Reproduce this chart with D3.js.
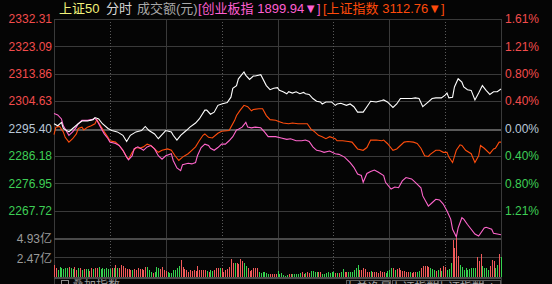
<!DOCTYPE html>
<html>
<head>
<meta charset="utf-8">
<script src="https://cdn.jsdelivr.net/npm/d3@7"></script>
<style>
  body { margin: 0; background: #050505; overflow: hidden; }
  svg { display: block; font-family: "Liberation Sans", Arial, "Noto Sans CJK SC", sans-serif; }
</style>
</head>
<body>
<svg id="chart" width="552" height="284"></svg>
<script>
// previous close of 上证50 and the axis labels
const prevClose = 2295.40;
const priceTicks = [2332.31, 2323.09, 2313.86, 2304.63, 2295.40, 2286.18, 2276.95, 2267.72];
const pctTicks = ["1.61%", "1.21%", "0.80%", "0.40%", "0.00%", "0.40%", "0.80%", "1.21%"];
const volTicks = [4.93, 2.47];
const bottomTabs = ["大单净量", "上证指数", "上证指数", "i"];

// [minute from 9:30, % change]
const sz50 = [[0,0.07],[2,0.04],[4,0.09],[5,0.00],[8,-0.05],[10,0.00],[13,0.07],[15,0.11],[18,0.11],[21,0.13],[22,0.16],[24,0.14],[26,0.07],[29,0.00],[31,-0.03],[34,-0.05],[37,-0.10],[39,-0.19],[41,-0.10],[44,-0.05],[47,-0.03],[49,0.03],[51,-0.03],[54,-0.08],[56,-0.15],[58,-0.09],[60,-0.03],[63,-0.05],[64,-0.10],[66,-0.17],[68,-0.10],[71,-0.03],[73,0.02],[76,0.08],[78,0.14],[81,0.27],[82,0.27],[84,0.21],[86,0.24],[88,0.34],[90,0.36],[93,0.38],[95,0.46],[96,0.59],[98,0.63],[99,0.73],[102,0.83],[103,0.78],[105,0.72],[107,0.77],[108,0.77],[111,0.79],[114,0.63],[116,0.57],[118,0.59],[120,0.60],[121,0.56],[123,0.54],[125,0.51],[126,0.54],[128,0.52],[130,0.54],[132,0.51],[134,0.53],[135,0.51],[137,0.50],[139,0.44],[141,0.40],[143,0.39],[144,0.36],[146,0.39],[149,0.39],[151,0.34],[152,0.36],[154,0.37],[157,0.34],[159,0.36],[161,0.32],[163,0.24],[166,0.24],[168,0.32],[170,0.40],[173,0.39],[176,0.41],[177,0.42],[179,0.39],[182,0.31],[184,0.36],[186,0.44],[189,0.44],[192,0.44],[194,0.45],[196,0.44],[198,0.32],[201,0.39],[203,0.44],[205,0.45],[208,0.45],[210,0.49],[211,0.52],[212,0.45],[214,0.46],[215,0.61],[217,0.73],[219,0.68],[220,0.61],[222,0.57],[224,0.56],[226,0.42],[228,0.52],[230,0.63],[232,0.56],[234,0.50],[236,0.54],[238,0.54],[240,0.58]];
const shIndex = [[0,-0.09],[1,0.02],[3,0.03],[5,-0.05],[6,-0.13],[8,-0.20],[10,-0.15],[12,-0.08],[13,0.00],[15,0.02],[16,-0.02],[18,0.02],[20,0.04],[22,0.07],[23,0.13],[25,0.04],[27,-0.05],[29,-0.13],[30,-0.18],[33,-0.20],[35,-0.25],[37,-0.32],[39,-0.42],[40,-0.45],[42,-0.35],[44,-0.28],[46,-0.29],[48,-0.27],[50,-0.23],[52,-0.25],[54,-0.30],[56,-0.35],[58,-0.32],[61,-0.30],[63,-0.32],[65,-0.40],[67,-0.47],[69,-0.42],[72,-0.37],[74,-0.32],[76,-0.27],[78,-0.18],[80,-0.10],[81,-0.08],[83,-0.13],[85,-0.14],[88,-0.07],[90,-0.04],[94,-0.03],[95,0.02],[97,0.12],[98,0.19],[100,0.27],[102,0.34],[104,0.32],[106,0.26],[107,0.28],[110,0.29],[112,0.29],[114,0.19],[116,0.13],[119,0.12],[121,0.10],[123,0.08],[126,0.07],[128,0.08],[131,0.07],[134,0.07],[136,0.07],[138,-0.01],[140,-0.05],[142,-0.10],[144,-0.12],[146,-0.15],[148,-0.12],[151,-0.15],[152,-0.18],[155,-0.18],[158,-0.19],[160,-0.20],[163,-0.30],[166,-0.32],[168,-0.28],[170,-0.17],[173,-0.17],[176,-0.18],[177,-0.17],[179,-0.22],[182,-0.32],[184,-0.30],[186,-0.25],[188,-0.20],[190,-0.19],[193,-0.20],[195,-0.22],[197,-0.29],[199,-0.40],[201,-0.41],[202,-0.38],[205,-0.32],[207,-0.32],[209,-0.35],[211,-0.35],[212,-0.42],[214,-0.50],[216,-0.32],[218,-0.24],[219,-0.25],[221,-0.32],[224,-0.37],[226,-0.50],[228,-0.40],[229,-0.25],[231,-0.29],[234,-0.37],[236,-0.30],[237,-0.29],[239,-0.20],[240,-0.20]];
const cybIndex = [[0,0.22],[2,0.20],[4,0.14],[5,0.04],[8,-0.10],[10,-0.05],[12,0.02],[13,0.07],[15,0.12],[18,0.12],[20,0.13],[22,0.15],[23,0.12],[25,0.02],[27,-0.08],[29,-0.15],[30,-0.20],[33,-0.22],[35,-0.25],[37,-0.32],[39,-0.42],[40,-0.46],[42,-0.40],[43,-0.30],[45,-0.27],[47,-0.30],[48,-0.32],[50,-0.27],[52,-0.25],[54,-0.30],[56,-0.40],[58,-0.45],[60,-0.40],[63,-0.37],[64,-0.47],[66,-0.58],[68,-0.62],[69,-0.53],[72,-0.51],[74,-0.52],[76,-0.50],[77,-0.40],[79,-0.28],[81,-0.23],[83,-0.25],[84,-0.29],[86,-0.32],[88,-0.28],[90,-0.23],[92,-0.23],[94,-0.18],[96,-0.12],[98,-0.02],[99,-0.01],[101,0.02],[103,0.09],[104,0.02],[106,0.01],[108,0.02],[111,0.01],[113,-0.05],[115,-0.12],[118,-0.12],[119,-0.12],[122,-0.14],[125,-0.16],[127,-0.15],[130,-0.18],[133,-0.18],[135,-0.17],[137,-0.19],[139,-0.27],[141,-0.32],[143,-0.33],[145,-0.35],[148,-0.33],[151,-0.37],[153,-0.38],[156,-0.42],[159,-0.50],[161,-0.57],[163,-0.67],[165,-0.69],[166,-0.79],[168,-0.66],[170,-0.63],[172,-0.61],[174,-0.64],[177,-0.69],[178,-0.79],[181,-0.89],[183,-0.86],[185,-0.87],[187,-0.77],[189,-0.72],[192,-0.74],[194,-0.79],[197,-0.87],[198,-0.99],[201,-1.14],[203,-1.09],[205,-1.04],[207,-1.05],[209,-1.11],[211,-1.21],[213,-1.33],[214,-1.48],[216,-1.59],[217,-1.46],[219,-1.31],[220,-1.33],[222,-1.41],[224,-1.48],[226,-1.55],[228,-1.58],[231,-1.46],[232,-1.45],[235,-1.48],[236,-1.54],[238,-1.55],[240,-1.56]];

// turnover per minute in 亿元, and whether the minute closed up (r) or down (g)
const volume = [
  1.53,1.09,0.87,1.22,1.09,0.96,1.18,1.09,1.31,1.09,
  1.05,1.31,0.87,1.09,1.09,0.87,1.05,0.96,0.96,0.78,
  1.09,0.96,1.09,1.13,1.26,0.96,1.09,0.96,1.13,1.05,
  0.96,1.13,1.09,1.53,1.09,1.09,1.48,1.40,1.09,1.05,
  0.96,0.87,0.90,1.00,0.90,1.20,1.00,1.00,0.87,1.26,
  1.26,0.87,0.65,0.52,0.65,1.26,1.09,1.00,1.26,0.87,
  0.74,0.61,0.52,0.52,0.87,0.87,1.09,1.40,2.18,1.26,
  1.00,0.87,0.65,0.87,0.70,0.87,0.78,1.40,0.87,0.87,
  0.87,0.87,0.74,0.65,0.87,0.70,0.87,1.09,1.13,1.13,
  1.13,0.61,0.87,1.00,1.26,2.27,1.79,1.74,1.74,1.66,
  2.27,2.05,1.74,1.40,1.09,0.78,0.87,1.09,1.13,1.13,
  0.61,0.52,0.61,0.61,0.52,0.44,0.35,0.35,0.35,0.40,
  0.78,0.44,0.52,0.31,0.17,0.22,0.35,0.35,0.35,0.35,
  0.35,0.44,0.52,0.65,0.39,0.52,0.65,0.52,0.74,0.74,
  0.65,0.61,0.61,0.61,0.44,0.44,0.52,0.61,0.52,0.65,
  0.61,0.52,0.50,0.52,0.65,1.00,0.65,0.57,0.65,0.65,
  0.65,0.87,1.09,1.57,0.87,0.87,1.09,0.96,0.65,0.57,
  0.74,0.65,0.61,0.61,0.52,0.78,0.65,0.57,0.52,0.78,
  0.87,1.09,1.18,0.87,1.05,1.09,0.87,0.80,0.74,0.65,
  0.61,0.65,0.52,0.61,0.61,0.57,0.74,1.09,1.40,1.40,
  1.40,1.31,1.09,0.95,0.87,0.78,0.87,1.09,0.78,1.40,
  1.31,0.87,1.00,1.74,4.70,3.70,4.90,2.62,1.53,1.31,
  0.87,1.09,0.87,0.96,1.09,1.09,1.09,2.53,1.96,2.96,
  1.44,1.09,1.09,0.87,1.44,2.18,1.96,1.20,1.53,2.96,
  2.55
];
const volDir =
  "rrggggggrg" + "grrgrgrggr" + "rgrrgggggg" + "grgrgrrrrr" + "rrgrrrrrrr" +
  "gggrgggrrr" + "rgggggggrr" + "rrrrrrrrrr" + "rrgrggrrrg" + "rrrrrrrgrr" +
  "rrggrrrrrr" + "ggggggrrrr" + "ggggggrrgg" + "gggrrgrrgg" + "ggrrgggggg" +
  "grgrggrrgg" + "ggggrrrrrr" + "grrrrrrrgg" + "ggrgrrrrrr" + "rgrrrggrrr" +
  "rrgggrgrgr" + "rgggrrrrgg" + "gggggggrrr" + "ggggrrrggr" + "g";

const svg = d3.select("#chart");
const plotLeft = 54, plotRight = 501, plotTop = 19, priceBottom = 238, volBottom = 277;
const pctRange = (priceTicks[0] - prevClose) / prevClose * 100;

const x = d3.scaleLinear().domain([0, 240]).range([plotLeft, plotRight]);
const y = d3.scaleLinear().domain([-pctRange, pctRange]).range([priceBottom, plotTop]);
const yv = d3.scaleLinear().domain([0, volTicks[0]]).range([volBottom, priceBottom]);
const pct = (p) => (p - prevClose) / prevClose * 100;

const gridColor = "#3a3a3a";
const red = "#f24c4c", green = "#3ecf55", flat = "#b9c8d8";

// horizontal grid
const grid = svg.append("g").attr("shape-rendering", "crispEdges");
grid.selectAll("line.h")
  .data(priceTicks)
  .enter()
  .append("line")
  .attr("x1", plotLeft).attr("x2", plotRight)
  .attr("y1", (d) => Math.round(y(pct(d))) + 0.5)
  .attr("y2", (d) => Math.round(y(pct(d))) + 0.5)
  .attr("stroke", (d) => (d === prevClose ? "#5a5a5a" : gridColor))
  .attr("stroke-width", (d) => (d === prevClose ? 2 : 1));

grid.append("line")
  .attr("x1", plotLeft).attr("x2", plotRight)
  .attr("y1", Math.round(yv(volTicks[1])) + 0.5).attr("y2", Math.round(yv(volTicks[1])) + 0.5)
  .attr("stroke", gridColor);

// vertical grid, every 30 minutes
grid.selectAll("line.v")
  .data(d3.range(30, 240, 30))
  .enter()
  .append("line")
  .attr("x1", (d) => Math.round(x(d)) + 0.5)
  .attr("x2", (d) => Math.round(x(d)) + 0.5)
  .attr("y1", plotTop).attr("y2", volBottom)
  .attr("stroke", (d) => (d % 60 === 0 ? gridColor : "#5a5a5a"))
  .attr("stroke-dasharray", (d) => (d % 60 === 0 ? null : "1,2"));

// frame
grid.append("line").attr("x1", plotLeft + 0.5).attr("x2", plotLeft + 0.5).attr("y1", plotTop).attr("y2", 284).attr("stroke", gridColor);
grid.append("line").attr("x1", plotRight + 0.5).attr("x2", plotRight + 0.5).attr("y1", plotTop).attr("y2", 284).attr("stroke", gridColor);
grid.append("line").attr("x1", plotLeft).attr("x2", plotRight).attr("y1", plotTop + 0.5).attr("y2", plotTop + 0.5).attr("stroke", gridColor);
grid.append("line").attr("x1", plotLeft).attr("x2", plotRight).attr("y1", priceBottom + 0.5).attr("y2", priceBottom + 0.5).attr("stroke", "#4a4a4a").attr("stroke-width", 2);
grid.append("line").attr("x1", plotLeft).attr("x2", plotRight).attr("y1", volBottom + 1).attr("y2", volBottom + 1).attr("stroke", "#4a4a4a").attr("stroke-width", 2);

// volume bars
svg.append("g")
  .attr("shape-rendering", "crispEdges")
  .selectAll("rect")
  .data(volume)
  .enter()
  .append("rect")
  .attr("x", (d, i) => Math.round(x(i)))
  .attr("width", 1)
  .attr("y", (d) => yv(d))
  .attr("height", (d) => volBottom - yv(d))
  .attr("fill", (d, i) => (volDir[i] === "r" ? "#f25a5a" : "#35d24f"));

// index lines
const line = d3.line().x((d) => x(d[0])).y((d) => y(d[1]));
[[shIndex, "#ff4d0d"], [cybIndex, "#ff66cc"], [sz50, "#ffffff"]].forEach(([data, color]) => {
  svg.append("path")
    .datum(data)
    .attr("d", line)
    .attr("fill", "none")
    .attr("stroke", color)
    .attr("stroke-width", 1.1);
});

// left price labels
svg.append("g")
  .selectAll("text")
  .data(priceTicks)
  .enter()
  .append("text")
  .attr("x", 52)
  .attr("y", (d) => y(pct(d)))
  .attr("dy", "0.36em")
  .attr("text-anchor", "end")
  .attr("font-size", 12)
  .attr("fill", (d) => (d > prevClose ? red : d < prevClose ? green : flat))
  .text((d) => d.toFixed(2));

// right percent labels
svg.append("g")
  .selectAll("text")
  .data(pctTicks)
  .enter()
  .append("text")
  .attr("x", 505)
  .attr("y", (d, i) => y(pct(priceTicks[i])))
  .attr("dy", "0.36em")
  .attr("font-size", 12)
  .attr("fill", (d, i) => (i < 4 ? red : i > 4 ? green : flat))
  .text((d) => d);

// volume labels
svg.append("g")
  .selectAll("text")
  .data(volTicks)
  .enter()
  .append("text")
  .attr("x", 52)
  .attr("y", (d) => yv(d) + 1)
  .attr("dy", "0.36em")
  .attr("text-anchor", "end")
  .attr("font-size", 12)
  .attr("fill", "#9a9a9a")
  .text((d) => d.toFixed(2) + "亿");

// bottom tab strip, cut off by the window edge
const strip = svg.append("g").attr("shape-rendering", "crispEdges");
strip.append("rect").attr("x", 61.5).attr("y", 280.5).attr("width", 7).attr("height", 10)
  .attr("fill", "none").attr("stroke", "#8a8a8a");
strip.append("text").attr("x", 72).attr("y", 290).attr("font-size", 12).attr("fill", "#9a9a9a").text("叠加指数");
const tabX = [346, 392, 438, 483];
const tabW = [44, 45, 44, 17];
strip.selectAll("rect.tab")
  .data(bottomTabs)
  .enter()
  .append("rect")
  .attr("x", (d, i) => tabX[i] + 0.5)
  .attr("y", 280.5)
  .attr("width", (d, i) => tabW[i])
  .attr("height", 12)
  .attr("fill", "#0c0c0c")
  .attr("stroke", "#5a5a5a");
strip.selectAll("text.tab")
  .data(bottomTabs)
  .enter()
  .append("text")
  .attr("x", (d, i) => tabX[i] + tabW[i] / 2)
  .attr("y", 292)
  .attr("text-anchor", "middle")
  .attr("font-size", 12)
  .attr("fill", "#a0a0a0")
  .text((d) => d);

// header
const header = [
  { text: "上证50", x: 59, color: "#f2f27a" },
  { text: "分时", x: 106, color: "#d8d8d8" },
  { text: "成交额(元)", x: 137, color: "#a8a8a8" },
  { text: "[创业板指 1899.94▼]", x: 198, color: "#ff5fd2" },
  { text: "[上证指数 3112.76▼]", x: 323, color: "#ff4a0a" }
];
svg.append("g")
  .selectAll("text")
  .data(header)
  .enter()
  .append("text")
  .attr("x", (d) => d.x)
  .attr("y", 13)
  .attr("font-size", 13)
  .attr("fill", (d) => d.color)
  .text((d) => d.text);
</script>
</body>
</html>
